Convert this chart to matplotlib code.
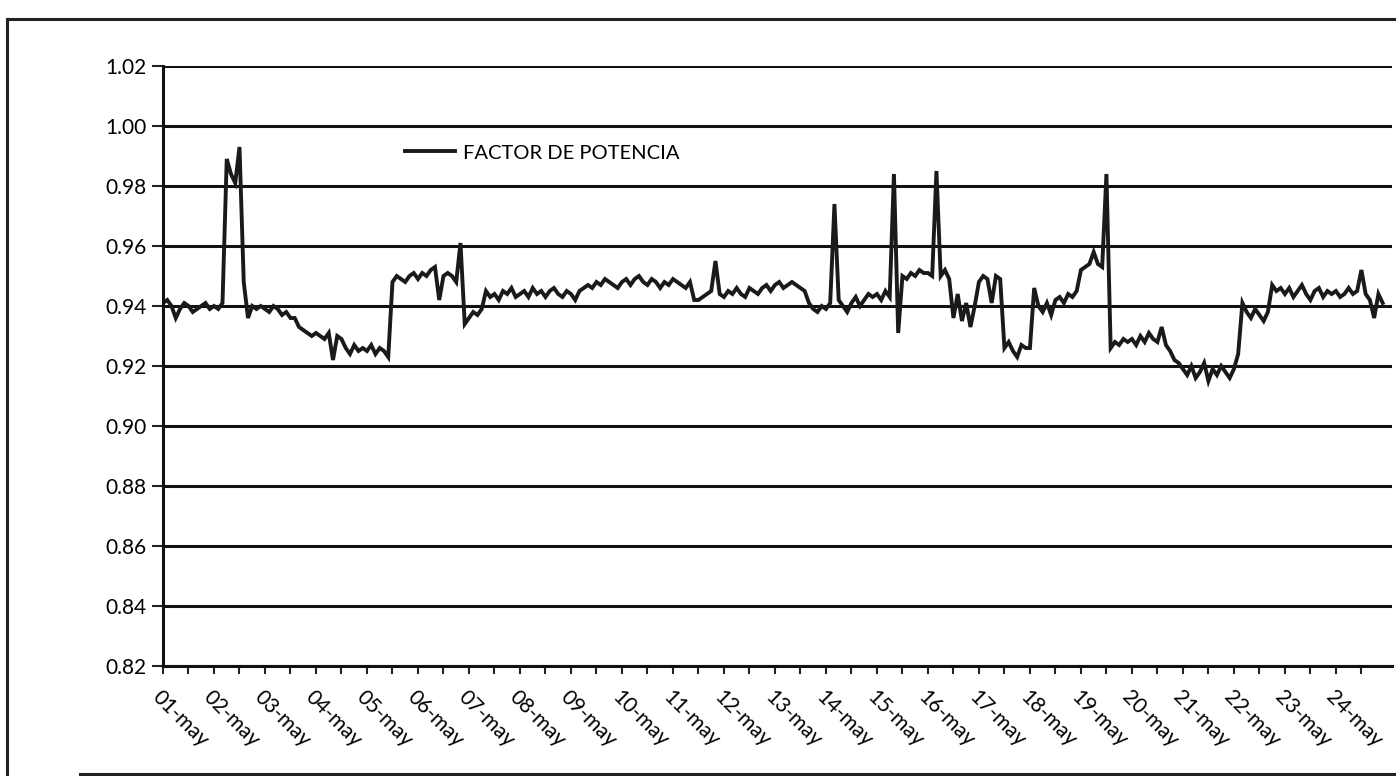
"""
Factor de potencia - registro 01-may a 24-may
Serie leida cada 2 horas (12 lecturas por dia), valores en milesimas.
"""

import numpy as np
import matplotlib
matplotlib.use('Agg')
import matplotlib.pyplot as plt
from matplotlib.lines import Line2D

plt.rcParams['font.family'] = ['Lato', 'DejaVu Sans']

# Lecturas (x 0.001), una fila por dia
semana1 = [
    941, 942, 940, 936, 939, 941, 940, 938, 939, 940, 941, 939,   # 01-may
    940, 939, 941, 989, 984, 981, 993, 948, 936, 940, 939, 940,   # 02-may
    939, 938, 940, 939, 937, 938, 936, 936, 933, 932, 931, 930,   # 03-may
    931, 930, 929, 931, 922, 930, 929, 926, 924, 927, 925, 926,   # 04-may
    925, 927, 924, 926, 925, 923, 948, 950, 949, 948, 950, 951,   # 05-may
    949, 951, 950, 952, 953, 942, 950, 951, 950, 948, 961, 934,   # 06-may
    936, 938, 937, 939, 945, 943, 944, 942, 945, 944, 946, 943,   # 07-may
]
semana2 = [
    944, 945, 943, 946, 944, 945, 943, 945, 946, 944, 943, 945,   # 08-may
    944, 942, 945, 946, 947, 946, 948, 947, 949, 948, 947, 946,   # 09-may
    948, 949, 947, 949, 950, 948, 947, 949, 948, 946, 948, 947,   # 10-may
    949, 948, 947, 946, 948, 942, 942, 943, 944, 945, 955, 944,   # 11-may
    943, 945, 944, 946, 944, 943, 946, 945, 944, 946, 947, 945,   # 12-may
    947, 948, 946, 947, 948, 947, 946, 945, 941, 939, 938, 940,   # 13-may
    939, 941, 974, 942, 940, 938, 941, 943, 940, 942, 944, 943,   # 14-may
]
semana3 = [
    944, 942, 945, 943, 984, 931, 950, 949, 951, 950, 952, 951,   # 15-may
    951, 950, 985, 950, 952, 949, 936, 944, 935, 941, 933, 940,   # 16-may
    948, 950, 949, 941, 950, 949, 926, 928, 925, 923, 927, 926,   # 17-may
    926, 946, 940, 938, 941, 937, 942, 943, 941, 944, 943, 945,   # 18-may
    952, 953, 954, 958, 954, 953, 984, 926, 928, 927, 929, 928,   # 19-may
    929, 927, 930, 928, 931, 929, 928, 933, 927, 925, 922, 921,   # 20-may
    919, 917, 920, 916, 918, 921, 915, 919, 917, 920, 918, 916,   # 21-may
]
semana4 = [
    919, 924, 941, 938, 936, 939, 937, 935, 938, 947, 945, 946,   # 22-may
    944, 946, 943, 945, 947, 944, 942, 945, 946, 943, 945, 944,   # 23-may
    945, 943, 944, 946, 944, 945, 952, 944, 942, 936, 944, 941,   # 24-may
]

dias = ['01-may', '02-may', '03-may', '04-may', '05-may', '06-may', '07-may',
        '08-may', '09-may', '10-may', '11-may', '12-may', '13-may', '14-may',
        '15-may', '16-may', '17-may', '18-may', '19-may', '20-may', '21-may',
        '22-may', '23-may', '24-may']
y_ticks = [0.82, 0.84, 0.86, 0.88, 0.90, 0.92, 0.94, 0.96, 0.98, 1.00, 1.02]
lecturas_por_dia = 12

fp = np.array(semana1 + semana2 + semana3 + semana4) / 1000.0
t = np.arange(len(fp)) / lecturas_por_dia   # posicion en dias

W, H = 1396, 776
fig = plt.figure(figsize=(W / 100, H / 100), dpi=100)
fig.patch.set_facecolor('white')

# marco exterior del grafico (recorte del escaneo)
fig.add_artist(Line2D([7 / W, 7 / W], [0, 1 - 19 / H], color='#222222', lw=2.2))
fig.add_artist(Line2D([7 / W, 1], [1 - 19 / H, 1 - 19 / H], color='#222222', lw=2.2))
fig.add_artist(Line2D([80 / W, 1], [2 / H, 2 / H], color='#222222', lw=2.2))

ax = fig.add_axes([163 / W, (H - 666) / H, (1392 - 163) / W, 600 / H])
ax.plot(t, fp, color='#1a1a1a', lw=2.8, solid_joinstyle='miter')

ax.set_ylim(0.82, 1.02)
ax.set_xlim(0, 24.1)
ax.set_yticks(y_ticks)
ax.set_yticklabels([f'{v:.2f}' for v in y_ticks], fontsize=15)
ax.yaxis.grid(True, color='#111111', lw=2.2)
ax.set_axisbelow(True)

ax.set_xticks(np.arange(len(dias)))
ax.set_xticklabels(dias, fontsize=15, rotation=-45, ha='left', va='top',
                   rotation_mode='anchor')
ax.set_xticks(np.arange(len(dias)) + 0.5, minor=True)
ax.tick_params(axis='x', which='both', direction='out', length=6, width=1.5,
               color='#222222', pad=9)
ax.tick_params(axis='y', direction='out', length=8, width=1.5,
               color='#222222', pad=4)

for s in ['top', 'right']:
    ax.spines[s].set_visible(False)
ax.spines['left'].set_linewidth(2.2)
ax.spines['bottom'].set_linewidth(2.2)
ax.spines['left'].set_color('#111111')
ax.spines['bottom'].set_color('#111111')

leg = ax.legend([Line2D([], [], color='#1a1a1a', lw=2.8)], ['FACTOR DE POTENCIA'],
                loc='center left', bbox_to_anchor=(405 / W, 1 - 153 / H),
                bbox_transform=fig.transFigure, frameon=False, fontsize=14.5,
                handlelength=2.5, handletextpad=0.4, borderpad=0,
                borderaxespad=0)

fig.savefig('out.png', dpi=100, facecolor='white')
